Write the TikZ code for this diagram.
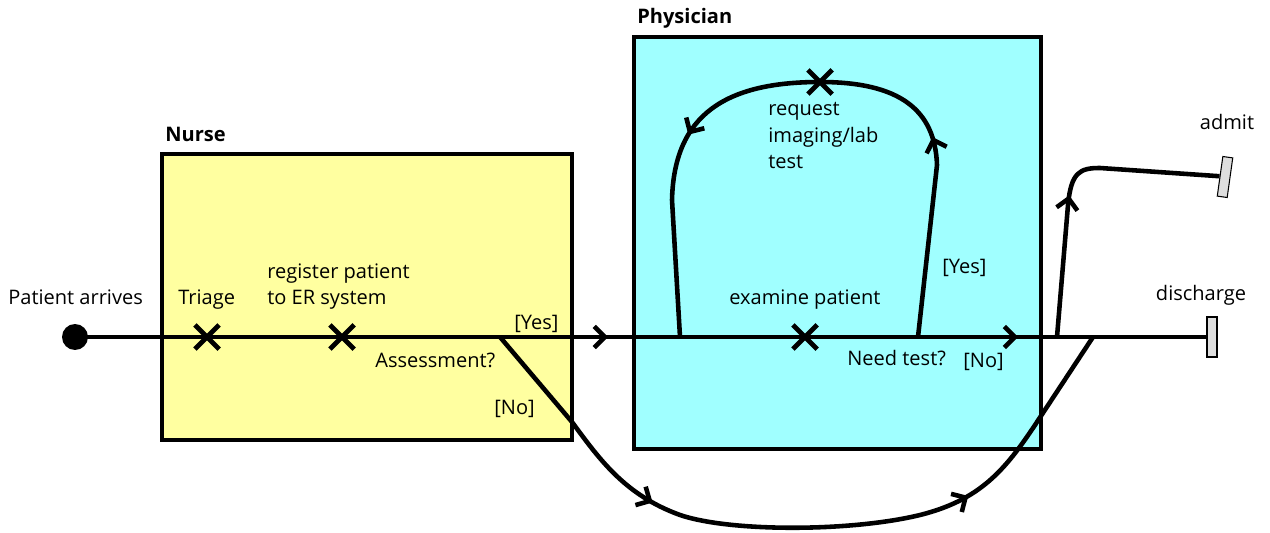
\documentclass[tikz,border=0pt]{standalone}
\usepackage{fontspec}
\setmainfont{Open Sans}
\usetikzlibrary{positioning,shapes.misc,arrows.meta,decorations.markings}

\definecolor{nurseyellow}{RGB}{255,255,160}
\definecolor{physcyan}{RGB}{160,255,255}
\definecolor{endgray}{RGB}{222,222,222}

\begin{document}
\begin{tikzpicture}[x=0.02cm, y=-0.02cm,
    font=\fontsize{11.4}{15.3}\selectfont,
    lane/.style={draw, line width=2.5pt},
    lanename/.style={anchor=base west, inner sep=0pt, font=\fontsize{11.4}{15.3}\selectfont\bfseries},
    txt/.style={anchor=base west, inner sep=0pt, align=left},
    flow/.style={line width=2.6pt, line join=round},
    task/.style={cross out, draw, line width=2.8pt, minimum size=11pt, inner sep=0pt},
    finish/.style={draw, line width=0.6pt, fill=endgray, minimum width=0.2cm, minimum height=0.8cm, inner sep=0pt},
    midarrow/.style={postaction={decorate, decoration={markings,
        mark=at position #1 with {\arrow{Straight Barb[length=6pt, width=12pt]}}}}}
  ]
  \useasboundingbox (0,0) rectangle (1270,533);

  % Swimlanes
  \draw[lane, fill=nurseyellow] (162,154) rectangle (572,440);
  \draw[lane, fill=physcyan] (634,37) rectangle (1041,449);
  \node[lanename] (nurse) at (165,142) {Nurse};
  \node[lanename] (physician) at (637,24) {Physician};

  % Steps along the main line
  \node[circle, fill, minimum size=0.52cm, inner sep=0pt] (start) at (75,337) {};
  \node[task] (triage) at (207,337) {};
  \node[task] (register) at (342,337) {};
  \coordinate (assess) at (500,337);
  \coordinate (loopL) at (680,337);
  \node[task] (examine) at (805,337) {};
  \coordinate (loopR) at (918,337);
  \coordinate (fork) at (1057,337);
  \coordinate (join) at (1093,337);
  \node[task] (request) at (820,82) {};
  \node[finish] (discharge) at (1212,337) {};
  \node[finish, rotate=-8] (admit) at (1225,177) {};

  % Texts (multi-line ones sit on their last line)
  \node[txt] (arrivetext) at (8,305) {Patient arrives};
  \node[txt] (triagetext) at (178,305) {Triage};
  \node[txt] (registertext) at (267,305) {register patient\\to ER system};
  \node[txt] (yes1) at (514,329) {[Yes]};
  \node[txt] (assesstext) at (375,367) {Assessment?};
  \node[txt] (no1) at (494,414) {[No]};
  \node[txt] (requesttext) at (768,169) {request\\imaging/lab\\test};
  \node[txt] (yes2) at (942,274) {[Yes]};
  \node[txt] (examinetext) at (729,305) {examine patient};
  \node[txt] (needtext) at (847,365) {Need test?};
  \node[txt] (no2) at (963,367) {[No]};
  \node[anchor=base, inner sep=0pt] (admittext) at (1227,130) {admit};
  \node[anchor=base, inner sep=0pt] (dischargetext) at (1201,300) {discharge};

  % Main flow
  \draw[flow] (start.center) -- (triage.center) -- (register.center) -- (assess);
  \draw[flow, midarrow=0.6] (assess) -- (loopL);
  \draw[flow] (loopL) -- (examine.center) -- (loopR);
  \draw[flow, midarrow=0.72] (loopR) -- (fork);
  \draw[flow] (fork) -- (join) -- (discharge.west);

  % Test loop
  \draw[flow, midarrow=0.6] (loopR) -- (937,165)
    .. controls (935,110) and (900,82) .. (request.center);
  \draw[flow, midarrow=0.42] (request.center)
    .. controls (725,82) and (674,115) .. (672,200) -- (loopL);

  % Skip branch
  \draw[flow, midarrow=0.3, midarrow=0.73] (assess) -- (572,422)
    .. controls (600,460) and (625,495) .. (680,515)
    .. controls (730,532) and (850,532) .. (920,515)
    .. controls (980,500) and (1005,470) .. (1035,425) -- (join);

  % Admission
  \draw[flow, midarrow=0.46] (fork) -- (1068,205)
    .. controls (1071,172) and (1080,168) .. (1100,168) -- (admit.west);
\end{tikzpicture}
\end{document}
